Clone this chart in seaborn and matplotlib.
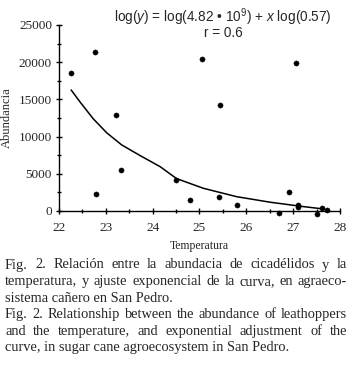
import matplotlib
matplotlib.use('Agg')
import matplotlib.pyplot as plt
import seaborn as sns
import pandas as pd
import numpy as np
from matplotlib.ticker import MultipleLocator

# datos
temperatura = [22.25, 22.77, 22.80, 23.22, 23.32, 24.51, 24.80, 25.06, 25.41, 25.44,
               25.81, 26.70, 26.91, 27.06, 27.11, 27.11, 27.50, 27.61, 27.72]
abundancia = [18550, 21400, 2330, 12860, 5470, 4120, 1520, 20430, 1840, 14200,
              810, -300, 2550, 19850, 850, 490, -400, 360, 90]

# curva ajustada
curva_t = [22.26, 22.45, 22.73, 23.02, 23.34, 23.73, 24.16, 24.51, 25.08, 25.79, 26.51, 27.22, 27.64]
curva_y = [16260, 14650, 12400, 10500, 8870, 7450, 5950, 4350, 3050, 1920, 1170, 580, 270]

xticks = [22, 23, 24, 25, 26, 27, 28]
yticks = [0, 5000, 10000, 15000, 20000, 25000]

caption = [
    ("Fig. 2. Relación entre la abundacia de cicadélidos y la", True),
    ("temperatura, y ajuste exponencial de la curva, en agraeco-", True),
    ("sistema cañero en San Pedro.", False),
    ("Fig. 2. Relationship between the abundance of leathoppers", True),
    ("and the temperature, and exponential adjustment of the", True),
    ("curve, in sugar cane agroecosystem in San Pedro.", False),
]

sns.set_style('ticks')
plt.rcParams['font.family'] = ['Liberation Serif', 'DejaVu Serif']
plt.rcParams['mathtext.fontset'] = 'custom'
plt.rcParams['mathtext.rm'] = 'Liberation Sans'
plt.rcParams['mathtext.it'] = 'Liberation Sans:italic'

df = pd.DataFrame({'Temperatura': temperatura, 'Abundancia': abundancia})
df_fit = pd.DataFrame({'Temperatura': curva_t, 'Abundancia': curva_y})

fig = plt.figure(figsize=(3.53, 3.72), dpi=100)
ax = fig.add_axes([0.167, 0.433, 0.796, 0.5])

sns.lineplot(data=df_fit, x='Temperatura', y='Abundancia', color='black', lw=1.1, ax=ax)
sns.scatterplot(data=df, x='Temperatura', y='Abundancia', color='black', s=14,
                edgecolor='black', ax=ax, clip_on=False, zorder=3)

ax.set_xlim(22, 28)
ax.set_ylim(0, 25000)
ax.set_xticks(xticks)
ax.set_yticks(yticks)
ax.xaxis.set_minor_locator(MultipleLocator(0.5))
ax.yaxis.set_minor_locator(MultipleLocator(2500))
ax.tick_params(axis='both', which='major', labelsize=9.5, length=4, width=1, color='black',
               direction='inout', pad=3)
ax.tick_params(axis='x', which='major', pad=6)
ax.tick_params(axis='both', which='minor', length=3, width=1, color='black', direction='inout')
sns.despine(ax=ax)
for s in ['left', 'bottom']:
    ax.spines[s].set_color('black')
    ax.spines[s].set_linewidth(1)
ax.set_xlabel('Temperatura', fontsize=8.5, labelpad=4)
ax.set_ylabel('Abundancia', fontsize=9, labelpad=4)

fig.text(0.632, 0.955, r'log($y$) = log(4.82 • 10$^9$) + $x$ log(0.57)',
         ha='center', va='center', fontsize=9.8, family='Liberation Sans')
fig.text(0.632, 0.91, 'r = 0.6', ha='center', va='center', fontsize=9.8, family='Liberation Sans')

# pie de figura justificado
fig.canvas.draw()
renderer = fig.canvas.get_renderer()
x0, x1 = 5 / 353, 347 / 353
ytop = 1 - 265 / 372
dy = 16.6 / 372
for i, (line, just) in enumerate(caption):
    y = ytop - i * dy
    words = line.split(' ')
    if not just:
        fig.text(x0, y, line, fontsize=10.4, va='center', ha='left')
        continue
    arts = [fig.text(0, y, w, fontsize=10.4, va='center', ha='left') for w in words]
    widths = [a.get_window_extent(renderer).width / fig.bbox.width for a in arts]
    gap = (x1 - x0 - sum(widths)) / (len(words) - 1)
    pos = x0
    for a, w in zip(arts, widths):
        a.set_x(pos)
        pos += w + gap

fig.savefig('out.png', dpi=100)
